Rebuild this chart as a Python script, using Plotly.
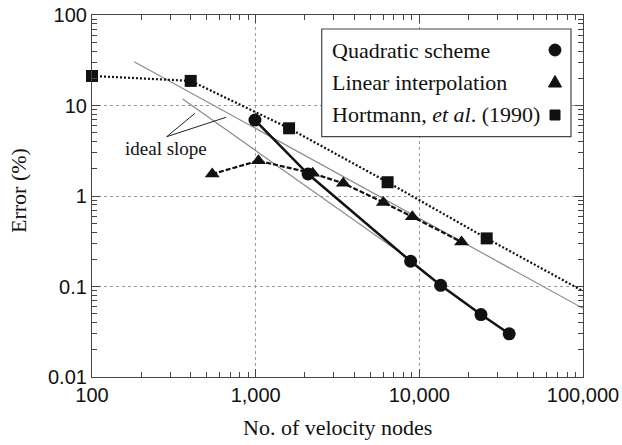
import plotly.graph_objects as go

# ---- data ----
quad_x = [990, 2090, 8850, 13500, 23800, 35400]
quad_y = [6.9, 1.75, 0.19, 0.103, 0.049, 0.030]

lin_x = [543, 1040, 2230, 3430, 6030, 9060, 18100]
lin_y = [1.75, 2.45, 1.78, 1.38, 0.85, 0.59, 0.31]

hort_x = [100, 401, 1600, 6400, 25800]
hort_y = [21.2, 18.7, 5.6, 1.42, 0.34]
hort_ext_x = [100000]
hort_ext_y = [0.089]

ideal1_x = [181, 100000]
ideal1_y = [30.5, 0.0574]
ideal2_x = [358, 8510]
ideal2_y = [11.8, 0.206]

x_ticks = [100, 1000, 10000, 100000]
x_ticktext = ["100", "1,000", "10,000", "100,000"]
y_ticks = [0.01, 0.1, 1, 10, 100]
y_ticktext = ["0.01", "0.1", "1", "10", "100"]

legend_names = ["Quadratic scheme", "Linear interpolation", "Hortmann, <i>et al</i>. (1990)"]

SERIF = "Liberation Serif"
SANS = "Liberation Sans"

W, H, L, R, T, B = 622, 445, 92, 39, 15, 68
pw, ph = W - L - R, H - T - B
def px2paper(px, py):
    return (px - L) / pw, (H - B - py) / ph

fig = go.Figure()

# ideal slope lines
for xs, ys in [(ideal1_x, ideal1_y), (ideal2_x, ideal2_y)]:
    fig.add_trace(go.Scatter(x=xs, y=ys, mode="lines",
                             line=dict(color="#8a8a8a", width=1.2),
                             showlegend=False, hoverinfo="skip"))

# Hortmann
fig.add_trace(go.Scatter(x=hort_x + hort_ext_x, y=hort_y + hort_ext_y, mode="lines",
                         line=dict(color="#111", width=2.2, dash="2px,2px"),
                         showlegend=False, cliponaxis=False))
fig.add_trace(go.Scatter(x=hort_x, y=hort_y, mode="markers",
                         marker=dict(symbol="square", size=12, color="#111"),
                         showlegend=False, cliponaxis=False))
# Linear
fig.add_trace(go.Scatter(x=lin_x, y=lin_y, mode="lines+markers",
                         line=dict(color="#111", width=2.2, dash="5px,2px"),
                         marker=dict(symbol="triangle-up", size=13, color="#111"),
                         showlegend=False))
# Quadratic
fig.add_trace(go.Scatter(x=quad_x, y=quad_y, mode="lines+markers",
                         line=dict(color="#111", width=2.5),
                         marker=dict(symbol="circle", size=13, color="#111"),
                         showlegend=False))

# legend (drawn manually: text left, symbol right)
leg_rows_px = [50, 82, 115]
leg_y = [px2paper(0, p)[1] for p in leg_rows_px]
lx_text = px2paper(330, 0)[0]
lx_mark = px2paper(555, 0)[0]

bx0, by0 = px2paper(321.7, 136.7)
bx1, by1 = px2paper(571, 29)
fig.add_shape(type="rect", xref="paper", yref="paper", x0=bx0, x1=bx1, y0=by0, y1=by1,
              line=dict(color="#444", width=1.2), fillcolor="white", layer="above")

mark_style = dict(xref="paper", yref="paper", xsizemode="pixel", ysizemode="pixel",
                  fillcolor="#111", line=dict(color="#111", width=1), layer="above")
# circle
fig.add_shape(type="circle", xanchor=lx_mark, yanchor=leg_y[0], x0=-6, x1=6, y0=-6, y1=6, **mark_style)
# triangle
fig.add_shape(type="path", xanchor=lx_mark, yanchor=leg_y[1],
              path="M -6.5,-5 L 6.5,-5 L 0,6.5 Z", **mark_style)
# square
fig.add_shape(type="rect", xanchor=lx_mark, yanchor=leg_y[2], x0=-5, x1=5, y0=-5, y1=5, **mark_style)

annotations = []
for name, yy in zip(legend_names, leg_y):
    annotations.append(dict(x=lx_text, y=yy, xref="paper", yref="paper", text=name,
                            showarrow=False, xanchor="left", yanchor="middle",
                            font=dict(family=SERIF, size=22, color="#111")))

ax, ay = px2paper(166, 148)
annotations.append(dict(x=ax, y=ay, xref="paper", yref="paper", text="ideal slope",
                        showarrow=False, xanchor="center", yanchor="middle",
                        font=dict(family=SERIF, size=19, color="#111")))

# axis titles
tx, ty = px2paper(337, 428)
annotations.append(dict(x=tx, y=ty, xref="paper", yref="paper", text="No. of velocity nodes",
                        showarrow=False, xanchor="center", yanchor="middle",
                        font=dict(family=SERIF, size=22, color="#111")))
tx, ty = px2paper(18, 191)
annotations.append(dict(x=tx, y=ty, xref="paper", yref="paper", text="Error (%)", textangle=-90,
                        showarrow=False, xanchor="center", yanchor="middle",
                        font=dict(family=SERIF, size=22, color="#111")))

fig.update_layout(annotations=annotations)

for (x0, y0, x1, y1) in [(166.7, 136.7, 195, 113.3), (166.7, 136.7, 226, 117.3)]:
    a0, b0 = px2paper(x0, y0)
    a1, b1 = px2paper(x1, y1)
    fig.add_shape(type="line", xref="paper", yref="paper", x0=a0, y0=b0, x1=a1, y1=b1,
                  line=dict(color="#222", width=1))

common_axis = dict(type="log", ticks="inside", ticklen=8, tickcolor="#444", mirror="allticks",
                   showline=True, linecolor="#444", linewidth=1.2,
                   showgrid=True, gridcolor="#999", griddash="dot", gridwidth=1,
                   minor=dict(ticks="inside", ticklen=5, tickcolor="#444", dtick="D1", showgrid=False),
                   tickfont=dict(family=SANS, size=20, color="#111"),
                   zeroline=False, automargin=False)

fig.update_layout(
    width=W, height=H,
    margin=dict(l=L, r=R, t=T, b=B, autoexpand=False),
    paper_bgcolor="white", plot_bgcolor="white",
    xaxis=dict(range=[2, 5], tickvals=x_ticks, ticktext=x_ticktext, **common_axis),
    yaxis=dict(range=[-2, 2], tickvals=y_ticks, ticktext=y_ticktext, **common_axis),
)

fig.write_html("out.html")
